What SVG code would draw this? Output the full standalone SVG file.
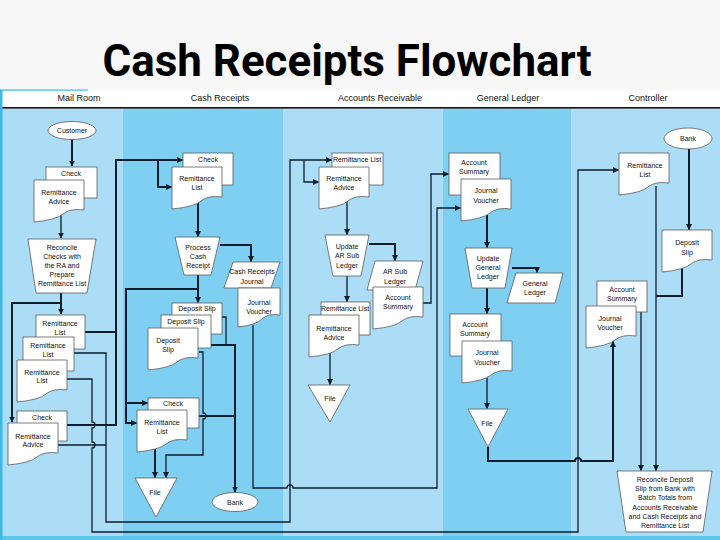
<svg xmlns="http://www.w3.org/2000/svg" xmlns:xlink="http://www.w3.org/1999/xlink" width="720" height="540" viewBox="0 0 720 540">
<style>
.ll{fill:#abddf6}
.ld{fill:#7ecff2}
.box{fill:#fff;stroke:#5a5a5a;stroke-width:0.8}
.t{font-family:"Liberation Sans",Arial,sans-serif;font-size:7px;fill:#111;text-anchor:middle}
.h{font-family:"Liberation Sans",Arial,sans-serif;font-size:9px;fill:#111;text-anchor:middle}
.c{fill:none;stroke:#0e1c2c;stroke-width:1.3}
.k{stroke-width:2}
</style>
<defs>
<marker id="a" viewBox="0 0 10 10" refX="9" refY="5" markerWidth="6" markerHeight="6" orient="auto" markerUnits="userSpaceOnUse">
<path d="M0,0 L10,5 L0,10 z" fill="#0e1c2c"/>
</marker>
<path id="doc" d="M0,0 h50 v30 q-14,-2 -21,4 t-29,8 z"/>
<path id="docn" d="M0,0 h42 v27 q-12,-2 -18,4 t-24,8 z"/>
</defs>
<rect width="720" height="540" fill="#f7f7f7"/>
<text x="347" y="76" font-family="Roboto,'Liberation Sans',sans-serif" font-weight="bold" font-size="44" text-anchor="middle" textLength="489" lengthAdjust="spacingAndGlyphs" fill="#000">Cash Receipts Flowchart</text>
<g id="lanes">
<rect x="2" y="90" width="718" height="17.5" fill="#fff"/>
<rect x="2" y="108.5" width="121" height="428" class="ll"/>
<rect x="123" y="108.5" width="160" height="428" class="ld"/>
<rect x="283" y="108.5" width="160" height="428" class="ll"/>
<rect x="443" y="108.5" width="128" height="428" class="ld"/>
<rect x="571" y="108.5" width="149" height="428" class="ll"/>
<rect x="0" y="107" width="720" height="1.6" fill="#111"/>
<rect x="0" y="536" width="720" height="4" fill="#5cc6ea"/>
<rect x="0" y="90" width="2.5" height="450" fill="#3fb8e2"/>
<rect x="0" y="89.5" width="88" height="1.2" fill="#3fb8e2"/>
<text class="h" x="79" y="101">Mail Room</text>
<text class="h" x="220" y="101">Cash Receipts</text>
<text class="h" x="380" y="101">Accounts Receivable</text>
<text class="h" x="508" y="101">General Ledger</text>
<text class="h" x="648" y="101">Controller</text>
</g>
<g id="connectors">
<path class="c k" d="M72,139.5 V166" marker-end="url(#a)"/>
<path class="c" d="M61,214 V238" marker-end="url(#a)"/>
<path class="c k" d="M61,293 V314" marker-end="url(#a)"/>
<path class="c k" d="M61,303 H12 V422" marker-end="url(#a)"/>
<path class="c k" d="M85,332 H116"/>
<path class="c k" d="M67,425 H116 V160 H182.5" marker-end="url(#a)"/>
<path class="c k" d="M158,160 V187 H171.5" marker-end="url(#a)"/>
<path class="c" d="M74,353 H106 V522 H290 V160 H331.5" marker-end="url(#a)"/>
<path class="c" d="M58,445 H106"/>
<path class="c" d="M304,160 V182 H318.5" marker-end="url(#a)"/>
<path class="c" d="M67,379 H92 V422 a3,3 0 0 1 0,6 V442 a3,3 0 0 1 0,6 V532 H578 V170 H618.5" marker-end="url(#a)"/>
<path class="c k" d="M198,201 V236.5" marker-end="url(#a)"/>
<path class="c k" d="M198,275 V302.5" marker-end="url(#a)"/>
<path class="c k" d="M198,289 H126 V423 H136.5" marker-end="url(#a)"/>
<path class="c k" d="M126,403 H147.5" marker-end="url(#a)"/>
<path class="c k" d="M220,245 H251 V261.5" marker-end="url(#a)"/>
<path class="c" d="M222,317 H226 V345"/>
<path class="c k" d="M211,345 H235 V492" marker-end="url(#a)"/>
<path class="c k" d="M199,416 H235"/>
<path class="c" d="M199,352 H203 V413 a3,3 0 0 1 0,6 V455 H166 V477.5" marker-end="url(#a)"/>
<path class="c k" d="M155,447 V477.5" marker-end="url(#a)"/>
<path class="c" d="M253,325 V488 H287 a3,3 0 0 1 6,0 H437 V208 H460.5" marker-end="url(#a)"/>
<path class="c" d="M347,201 V234.5" marker-end="url(#a)"/>
<path class="c k" d="M369,244 H395 V260.5" marker-end="url(#a)"/>
<path class="c" d="M347,276 V301.5" marker-end="url(#a)"/>
<path class="c" d="M330,352 V384.5" marker-end="url(#a)"/>
<path class="c" d="M423,303 H431 V174 H448.5" marker-end="url(#a)"/>
<path class="c k" d="M487,213 V247.5" marker-end="url(#a)"/>
<path class="c k" d="M512,268 H537 V272.5" marker-end="url(#a)"/>
<path class="c k" d="M487,288 V313.5" marker-end="url(#a)"/>
<path class="c" d="M487,375 V408.5" marker-end="url(#a)"/>
<path class="c k" d="M488,447 V461 H575 a3,3 0 0 1 6,0 H613 V341.5" marker-end="url(#a)"/>
<path class="c k" d="M689,149 V229.5" marker-end="url(#a)"/>
<path class="c" d="M656,186 V470.5" marker-end="url(#a)"/>
<path class="c k" d="M682,266 V296 H656"/>
<path class="c" d="M641,312 V470.5" marker-end="url(#a)"/>
</g>
<g id="customer"><ellipse class="box" cx="72" cy="130.5" rx="24" ry="9"/><text class="t" x="72" y="133">Customer</text></g>
<g id="mr-check"><rect class="box" x="46" y="167" width="51" height="31"/><text class="t" x="71" y="175.5">Check</text></g>
<g id="mr-ra"><use xlink:href="#doc" class="box" x="34" y="180"/><text class="t" x="59" y="194.5">Remittance</text><text class="t" x="59" y="203.5">Advice</text></g>
<g id="mr-reconcile"><polygon class="box" points="28,239 96,239 87,293 36,293"/><text class="t" x="62" y="249.5">Reconcile</text><text class="t" x="62" y="258.5">Checks with</text><text class="t" x="62" y="267.5">the RA and</text><text class="t" x="62" y="276.5">Prepare</text><text class="t" x="62" y="285.5">Remittance List</text></g>
<g id="mr-rl1"><rect class="box" x="36" y="315" width="49" height="34"/><text class="t" x="60" y="325.5">Remittance</text><text class="t" x="60" y="335">List</text></g>
<g id="mr-rl2"><rect class="box" x="23" y="337" width="51" height="34"/><text class="t" x="48" y="347.5">Remittance</text><text class="t" x="48" y="356.5">List</text></g>
<g id="mr-rl3"><use xlink:href="#doc" class="box" x="17" y="360"/><text class="t" x="42" y="374.5">Remittance</text><text class="t" x="42" y="383">List</text></g>
<g id="mr-check2"><rect class="box" x="17" y="411" width="50" height="30"/><text class="t" x="42" y="419.5">Check</text></g>
<g id="mr-ra2"><use xlink:href="#doc" class="box" x="8" y="423"/><text class="t" x="33" y="438.5">Remittance</text><text class="t" x="33" y="446.5">Advice</text></g>
<g id="cr-check"><rect class="box" x="183" y="153" width="50" height="32"/><text class="t" x="208" y="161.5">Check</text></g>
<g id="cr-rl"><use xlink:href="#doc" class="box" x="172" y="167"/><text class="t" x="197" y="180.5">Remittance</text><text class="t" x="197" y="189.5">List</text></g>
<g id="cr-process"><polygon class="box" points="175,237 220,237 211,275 184,275"/><text class="t" x="198" y="249.5">Process</text><text class="t" x="198" y="258.5">Cash</text><text class="t" x="198" y="267.5">Receipt</text></g>
<g id="cr-journal"><polygon class="box" points="233,262 280,262 271,288 224,288"/><text class="t" x="252" y="273.5">Cash Receipts</text><text class="t" x="252" y="283.5">Journal</text></g>
<g id="cr-jv"><use xlink:href="#docn" class="box" x="238" y="288"/><text class="t" x="259" y="304.5">Journal</text><text class="t" x="259" y="313.5">Voucher</text></g>
<g id="cr-ds1"><rect class="box" x="172" y="303" width="50" height="31"/><text class="t" x="197" y="310.5">Deposit Slip</text></g>
<g id="cr-ds2"><rect class="box" x="161" y="315" width="50" height="33"/><text class="t" x="186" y="323.5">Deposit Slip</text></g>
<g id="cr-ds3"><use xlink:href="#doc" class="box" x="148" y="328"/><text class="t" x="168" y="342.5">Deposit</text><text class="t" x="168" y="351.5">Slip</text></g>
<g id="cr-check2"><rect class="box" x="148" y="398" width="51" height="30"/><text class="t" x="173" y="405.5">Check</text></g>
<g id="cr-rl2"><use xlink:href="#doc" class="box" x="137" y="410"/><text class="t" x="162" y="424.5">Remittance</text><text class="t" x="162" y="433.5">List</text></g>
<g id="cr-file"><polygon class="box" points="135,478 177,478 156,517"/><text class="t" x="155" y="494.5">File</text></g>
<g id="cr-bank"><ellipse class="box" cx="235" cy="502" rx="23" ry="9.5"/><text class="t" x="235" y="504.5">Bank</text></g>
<g id="ar-rl"><rect class="box" x="332" y="153" width="51" height="32"/><text class="t" x="357" y="161.5">Remittance List</text></g>
<g id="ar-ra"><use xlink:href="#doc" class="box" x="319" y="167"/><text class="t" x="344" y="180.5">Remittance</text><text class="t" x="344" y="189.5">Advice</text></g>
<g id="ar-update"><polygon class="box" points="325,235 369,235 361,276 333,276"/><text class="t" x="347" y="248.5">Update</text><text class="t" x="347" y="257.5">AR Sub</text><text class="t" x="347" y="267.5">Ledger</text></g>
<g id="ar-subledger"><polygon class="box" points="375,261 423,261 415,290 367,290"/><text class="t" x="395" y="273.5">AR Sub</text><text class="t" x="395" y="283.5">Ledger</text></g>
<g id="ar-summary"><use xlink:href="#doc" class="box" x="373" y="287"/><text class="t" x="398" y="299.5">Account</text><text class="t" x="398" y="308.5">Summary</text></g>
<g id="ar-rl2"><rect class="box" x="321" y="302" width="49" height="33"/><text class="t" x="345" y="310.5">Remittance List</text></g>
<g id="ar-ra2"><use xlink:href="#doc" class="box" x="309" y="315"/><text class="t" x="334" y="330.5">Remittance</text><text class="t" x="334" y="339.5">Advice</text></g>
<g id="ar-file"><polygon class="box" points="308,385 350,385 330,422"/><text class="t" x="330" y="400.5">File</text></g>
<g id="gl-summary"><rect class="box" x="449" y="153" width="51" height="42"/><text class="t" x="474" y="164.5">Account</text><text class="t" x="474" y="173.5">Summary</text></g>
<g id="gl-jv"><use xlink:href="#doc" class="box" x="461" y="179"/><text class="t" x="486" y="192.5">Journal</text><text class="t" x="486" y="202.5">Voucher</text></g>
<g id="gl-update"><polygon class="box" points="465,248 512,248 505,288 472,288"/><text class="t" x="488" y="260.5">Update</text><text class="t" x="488" y="269.5">General</text><text class="t" x="488" y="278.5">Ledger</text></g>
<g id="gl-ledger"><polygon class="box" points="516,273 563,273 555,303 507,303"/><text class="t" x="535" y="285.5">General</text><text class="t" x="535" y="294.5">Ledger</text></g>
<g id="gl-summary2"><rect class="box" x="450" y="314" width="51" height="42"/><text class="t" x="475" y="326.5">Account</text><text class="t" x="475" y="335.5">Summary</text></g>
<g id="gl-jv2"><use xlink:href="#doc" class="box" x="462" y="341"/><text class="t" x="487" y="354.5">Journal</text><text class="t" x="487" y="364.5">Voucher</text></g>
<g id="gl-file"><polygon class="box" points="468,409 508,409 488,447"/><text class="t" x="487" y="425.5">File</text></g>
<g id="ct-bank"><ellipse class="box" cx="688" cy="138.5" rx="24" ry="10.5"/><text class="t" x="688" y="141">Bank</text></g>
<g id="ct-rl"><use xlink:href="#doc" class="box" x="619" y="153"/><text class="t" x="645" y="167.5">Remittance</text><text class="t" x="645" y="176.5">List</text></g>
<g id="ct-ds"><use xlink:href="#doc" class="box" x="662" y="230"/><text class="t" x="687" y="244.5">Deposit</text><text class="t" x="687" y="254.5">Slip</text></g>
<g id="ct-summary"><rect class="box" x="597" y="281" width="50" height="31"/><text class="t" x="622" y="291.5">Account</text><text class="t" x="622" y="300.5">Summary</text></g>
<g id="ct-jv"><use xlink:href="#doc" class="box" x="586" y="306"/><text class="t" x="610" y="320.5">Journal</text><text class="t" x="610" y="329.5">Voucher</text></g>
<g id="ct-reconcile"><polygon class="box" points="617,471 712,471 703,532 626,532"/><text class="t" x="665" y="481.5">Reconcile Deposit</text><text class="t" x="665" y="490.5">Slip from Bank with</text><text class="t" x="665" y="499.5">Batch Totals from</text><text class="t" x="665" y="509.5">Accounts Receivable</text><text class="t" x="665" y="518.5">and Cash Receipts and</text><text class="t" x="665" y="527.5">Remittance List</text></g>
</svg>
